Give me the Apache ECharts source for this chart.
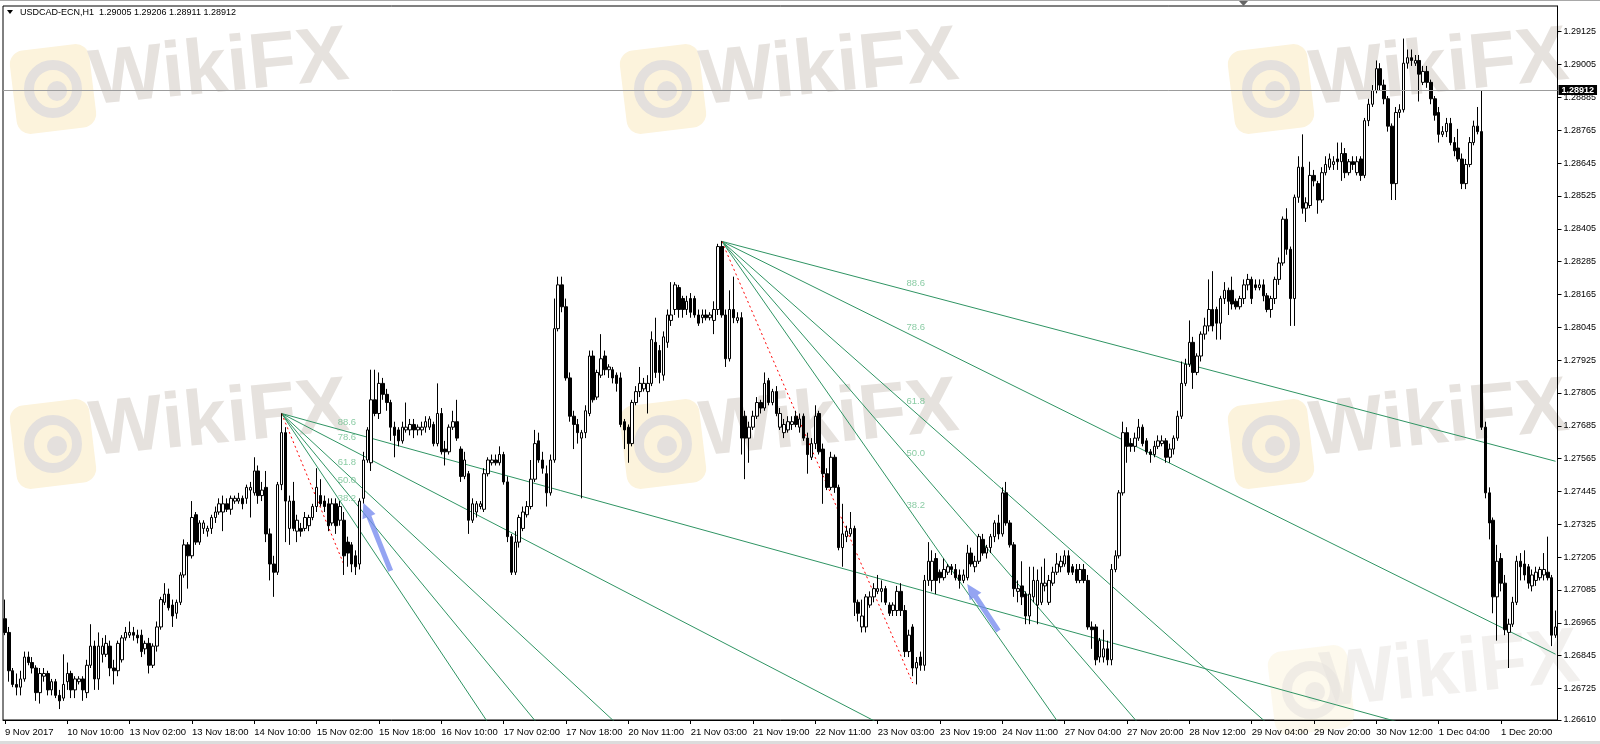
<!DOCTYPE html>
<html>
<head>
<meta charset="utf-8">
<title>USDCAD-ECN,H1</title>
<script src="https://cdn.jsdelivr.net/npm/echarts@6.0.0/dist/echarts.min.js"></script>
<style>
html,body{margin:0;padding:0;background:#ffffff;}
#chart{width:1600px;height:744px;}
</style>
</head>
<body>
<div id="chart"></div>
<script>
const symbolTitle = 'USDCAD-ECN,H1  1.29005 1.29206 1.28911 1.28912';
const xTickLabels = ['9 Nov 2017','10 Nov 10:00','13 Nov 02:00','13 Nov 18:00','14 Nov 10:00','15 Nov 02:00','15 Nov 18:00','16 Nov 10:00','17 Nov 02:00','17 Nov 18:00','20 Nov 11:00','21 Nov 03:00','21 Nov 19:00','22 Nov 11:00','23 Nov 03:00','23 Nov 19:00','24 Nov 11:00','27 Nov 04:00','27 Nov 20:00','28 Nov 12:00','29 Nov 04:00','29 Nov 20:00','30 Nov 12:00','1 Dec 04:00','1 Dec 20:00'];
const yTicks = [1.26610,1.26725,1.26845,1.26965,1.27085,1.27205,1.27325,1.27445,1.27565,1.27685,1.27805,1.27925,1.28045,1.28165,1.28285,1.28405,1.28525,1.28645,1.28765,1.28885,1.29005,1.29125];

const opens = [
1.2698,1.2693,1.2679,1.2674,1.2673,1.2676,1.2684,1.2682,1.2680,1.2671,1.2677,1.2678,1.2672,1.2675,1.2670,1.2669,1.2675,1.2678,1.2672,1.2675,
1.2676,1.2671,1.2681,1.2688,1.2676,1.2685,1.2685,1.2688,1.2680,1.2679,1.2683,1.2691,1.2692,1.2693,1.2692,1.2692,1.2687,1.2689,1.2681,1.2688,
1.2695,1.2704,1.2707,1.2703,1.2700,1.2704,1.2714,1.2725,1.2721,1.2736,1.2726,1.2731,1.2730,1.2731,1.2735,1.2737,1.2737,1.2740,1.2738,1.2741,
1.2741,1.2742,1.2742,1.2745,1.2744,1.2752,1.2743,1.2746,1.2729,1.2718,1.2715,1.2747,1.2766,1.2731,1.2741,1.2730,1.2731,1.2731,1.2732,1.2735,
1.2739,1.2743,1.2741,1.2740,1.2733,1.2740,1.2734,1.2734,1.2726,1.2725,1.2721,1.2718,1.2742,1.2756,1.2755,1.2778,1.2773,1.2784,1.2780,1.2777,
1.2768,1.2767,1.2763,1.2767,1.2767,1.2769,1.2767,1.2767,1.2768,1.2768,1.2769,1.2762,1.2773,1.2760,1.2759,1.2768,1.2770,1.2760,1.2750,1.2751,
1.2734,1.2737,1.2739,1.2738,1.2751,1.2755,1.2756,1.2755,1.2758,1.2748,1.2728,1.2715,1.2726,1.2731,1.2736,1.2739,1.2749,1.2763,1.2756,1.2751,
1.2744,1.2756,1.2804,1.2820,1.2812,1.2786,1.2772,1.2769,1.2764,1.2766,1.2773,1.2794,1.2779,1.2787,1.2794,1.2789,1.2789,1.2787,1.2786,1.2770,
1.2768,1.2762,1.2777,1.2781,1.2782,1.2781,1.2784,1.2799,1.2796,1.2787,1.2799,1.2807,1.2811,1.2819,1.2815,1.2811,1.2815,1.2815,1.2809,1.2808,
1.2809,1.2808,1.2807,1.2811,1.2834,1.2809,1.2793,1.2811,1.2807,1.2808,1.2772,1.2764,1.2768,1.2772,1.2777,1.2775,1.2785,1.2777,1.2781,1.2768,
1.2766,1.2767,1.2769,1.2772,1.2768,1.2772,1.2764,1.2757,1.2762,1.2773,1.2760,1.2751,1.2746,1.2757,1.2746,1.2724,1.2728,1.2729,1.2731,1.2704,
1.2695,1.2695,1.2703,1.2706,1.2708,1.2708,1.2709,1.2703,1.2701,1.2701,1.2708,1.2701,1.2686,1.2695,1.2680,1.2684,1.2681,1.2712,1.2712,1.2720,
1.2715,1.2713,1.2715,1.2717,1.2716,1.2714,1.2712,1.2713,1.2722,1.2717,1.2719,1.2727,1.2722,1.2724,1.2728,1.2733,1.2729,1.2744,1.2733,1.2725,
1.2708,1.2710,1.2707,1.2699,1.2706,1.2703,1.2704,1.2710,1.2704,1.2711,1.2715,1.2717,1.2718,1.2721,1.2717,1.2716,1.2712,1.2716,1.2712,1.2695,
1.2695,1.2684,1.2684,1.2687,1.2683,1.2716,1.2721,1.2744,1.2766,1.2762,1.2761,1.2764,1.2768,1.2763,1.2759,1.2758,1.2761,1.2762,1.2763,1.2757,
1.2760,1.2764,1.2772,1.2784,1.2791,1.2799,1.2788,1.2794,1.2802,1.2805,1.2811,1.2811,1.2806,1.2815,1.2818,1.2818,1.2814,1.2812,1.2815,1.2820,
1.2822,1.2820,1.2819,1.2820,1.2816,1.2811,1.2815,1.2822,1.2828,1.2844,1.2833,1.2815,1.2852,1.2863,1.2848,1.2849,1.2860,1.2857,1.2851,1.2861,
1.2863,1.2864,1.2866,1.2865,1.2868,1.2861,1.2865,1.2861,1.2866,1.2860,1.2880,1.2886,1.2891,1.2899,1.2893,1.2888,1.2878,1.2857,1.2883,1.2884,
1.2901,1.2903,1.2901,1.2902,1.2894,1.2898,1.2894,1.2888,1.2883,1.2875,1.2876,1.2879,1.2872,1.2870,1.2866,1.2857,1.2864,1.2872,1.2878,1.2876,
1.2768,1.2744,1.2734,1.2706,1.2720,1.2711,1.2693,1.2696,1.2704,1.2719,1.2718,1.2717,1.2710,1.2712,1.2713,1.2714,1.2715,1.2713,1.2692];

const closes = [
1.2693,1.2679,1.2674,1.2673,1.2676,1.2684,1.2682,1.2680,1.2671,1.2678,1.2678,1.2672,1.2675,1.2670,1.2668,1.2674,1.2678,1.2672,1.2676,1.2676,
1.2672,1.2681,1.2688,1.2676,1.2688,1.2688,1.2689,1.2680,1.2679,1.2689,1.2691,1.2693,1.2693,1.2692,1.2691,1.2686,1.2689,1.2681,1.2688,1.2695,
1.2705,1.2707,1.2702,1.2699,1.2704,1.2714,1.2725,1.2721,1.2735,1.2726,1.2733,1.2733,1.2731,1.2735,1.2737,1.2740,1.2740,1.2738,1.2742,1.2742,
1.2742,1.2740,1.2746,1.2746,1.2752,1.2743,1.2745,1.2729,1.2718,1.2715,1.2747,1.2766,1.2741,1.2741,1.2731,1.2734,1.2730,1.2735,1.2735,1.2739,
1.2746,1.2740,1.2739,1.2732,1.2740,1.2732,1.2739,1.2721,1.2722,1.2718,1.2717,1.2741,1.2756,1.2767,1.2778,1.2773,1.2784,1.2780,1.2777,1.2768,
1.2765,1.2763,1.2768,1.2768,1.2769,1.2767,1.2768,1.2768,1.2770,1.2771,1.2762,1.2773,1.2759,1.2759,1.2768,1.2770,1.2764,1.2750,1.2756,1.2734,
1.2740,1.2740,1.2740,1.2751,1.2756,1.2756,1.2755,1.2758,1.2748,1.2728,1.2715,1.2726,1.2735,1.2737,1.2739,1.2749,1.2762,1.2756,1.2753,1.2744,
1.2756,1.2804,1.2820,1.2812,1.2786,1.2772,1.2769,1.2766,1.2766,1.2774,1.2794,1.2778,1.2788,1.2793,1.2789,1.2790,1.2786,1.2784,1.2769,1.2767,
1.2762,1.2777,1.2781,1.2784,1.2784,1.2784,1.2800,1.2788,1.2788,1.2801,1.2809,1.2809,1.2820,1.2811,1.2811,1.2814,1.2810,1.2809,1.2806,1.2809,
1.2808,1.2809,1.2811,1.2834,1.2809,1.2793,1.2811,1.2808,1.2808,1.2764,1.2764,1.2768,1.2772,1.2777,1.2775,1.2784,1.2777,1.2781,1.2773,1.2773,
1.2769,1.2770,1.2770,1.2769,1.2771,1.2764,1.2758,1.2762,1.2772,1.2759,1.2751,1.2746,1.2757,1.2746,1.2724,1.2729,1.2730,1.2731,1.2704,1.2700,
1.2699,1.2706,1.2706,1.2709,1.2709,1.2709,1.2704,1.2700,1.2703,1.2708,1.2701,1.2686,1.2692,1.2680,1.2682,1.2681,1.2712,1.2719,1.2719,1.2712,
1.2713,1.2716,1.2717,1.2716,1.2713,1.2712,1.2714,1.2722,1.2718,1.2719,1.2728,1.2722,1.2724,1.2728,1.2733,1.2729,1.2744,1.2733,1.2725,1.2709,
1.2709,1.2706,1.2699,1.2707,1.2712,1.2712,1.2711,1.2711,1.2712,1.2715,1.2718,1.2719,1.2721,1.2715,1.2715,1.2712,1.2716,1.2712,1.2695,1.2694,
1.2683,1.2690,1.2687,1.2683,1.2716,1.2721,1.2744,1.2766,1.2761,1.2761,1.2764,1.2768,1.2762,1.2759,1.2758,1.2761,1.2763,1.2763,1.2757,1.2760,
1.2764,1.2772,1.2784,1.2791,1.2799,1.2788,1.2794,1.2802,1.2805,1.2811,1.2805,1.2806,1.2815,1.2818,1.2814,1.2813,1.2812,1.2815,1.2820,1.2822,
1.2815,1.2819,1.2820,1.2816,1.2811,1.2815,1.2822,1.2828,1.2844,1.2833,1.2815,1.2852,1.2863,1.2848,1.2850,1.2860,1.2858,1.2851,1.2861,1.2864,
1.2866,1.2865,1.2865,1.2868,1.2861,1.2865,1.2864,1.2865,1.2860,1.2880,1.2886,1.2891,1.2899,1.2893,1.2888,1.2878,1.2857,1.2883,1.2884,1.2901,
1.2903,1.2902,1.2902,1.2897,1.2898,1.2894,1.2888,1.2882,1.2875,1.2876,1.2879,1.2872,1.2869,1.2866,1.2857,1.2864,1.2872,1.2878,1.2876,1.2768,
1.2744,1.2733,1.2706,1.2719,1.2711,1.2694,1.2696,1.2704,1.2719,1.2717,1.2714,1.2711,1.2714,1.2715,1.2716,1.2716,1.2713,1.2692,1.2695];

const highs = [
1.2705,1.2695,1.2680,1.2678,1.2679,1.2686,1.2686,1.2684,1.2681,1.2680,1.2680,1.2679,1.2676,1.2676,1.2672,1.2685,1.2682,1.2679,1.2677,1.2677,
1.2677,1.2683,1.2696,1.2690,1.2693,1.2691,1.2692,1.2690,1.2683,1.2690,1.2692,1.2695,1.2697,1.2695,1.2694,1.2694,1.2690,1.2691,1.2689,1.2697,
1.2706,1.2711,1.2709,1.2705,1.2705,1.2715,1.2727,1.2726,1.2741,1.2737,1.2734,1.2734,1.2732,1.2736,1.2739,1.2742,1.2743,1.2742,1.2743,1.2743,
1.2744,1.2743,1.2747,1.2748,1.2757,1.2754,1.2748,1.2752,1.2731,1.2721,1.2748,1.2773,1.2768,1.2743,1.2748,1.2736,1.2733,1.2737,1.2736,1.2740,
1.2753,1.2749,1.2743,1.2742,1.2742,1.2742,1.2741,1.2737,1.2728,1.2726,1.2723,1.2742,1.2759,1.2768,1.2789,1.2789,1.2788,1.2786,1.2782,1.2778,
1.2770,1.2768,1.2770,1.2777,1.2771,1.2771,1.2769,1.2770,1.2772,1.2772,1.2770,1.2784,1.2775,1.2763,1.2769,1.2774,1.2778,1.2761,1.2759,1.2752,
1.2742,1.2741,1.2741,1.2753,1.2757,1.2758,1.2758,1.2761,1.2759,1.2750,1.2729,1.2730,1.2736,1.2739,1.2741,1.2756,1.2767,1.2766,1.2759,1.2754,
1.2758,1.2815,1.2823,1.2823,1.2815,1.2788,1.2774,1.2771,1.2767,1.2776,1.2796,1.2796,1.2789,1.2802,1.2796,1.2791,1.2790,1.2788,1.2788,1.2771,
1.2769,1.2778,1.2783,1.2790,1.2786,1.2787,1.2803,1.2808,1.2798,1.2803,1.2811,1.2821,1.2821,1.2820,1.2816,1.2816,1.2817,1.2816,1.2811,1.2811,
1.2811,1.2810,1.2814,1.2835,1.2836,1.2811,1.2818,1.2823,1.2810,1.2810,1.2774,1.2770,1.2774,1.2779,1.2778,1.2788,1.2786,1.2782,1.2783,1.2775,
1.2771,1.2772,1.2772,1.2774,1.2773,1.2773,1.2766,1.2764,1.2776,1.2774,1.2762,1.2753,1.2759,1.2758,1.2747,1.2740,1.2732,1.2737,1.2732,1.2705,
1.2705,1.2707,1.2708,1.2711,1.2714,1.2712,1.2710,1.2704,1.2704,1.2710,1.2711,1.2703,1.2694,1.2696,1.2684,1.2686,1.2714,1.2726,1.2723,1.2722,
1.2716,1.2720,1.2718,1.2718,1.2718,1.2716,1.2716,1.2725,1.2724,1.2721,1.2729,1.2729,1.2725,1.2729,1.2734,1.2736,1.2746,1.2748,1.2734,1.2726,
1.2712,1.2719,1.2708,1.2717,1.2717,1.2716,1.2717,1.2720,1.2714,1.2717,1.2722,1.2721,1.2723,1.2723,1.2718,1.2718,1.2718,1.2718,1.2714,1.2697,
1.2696,1.2691,1.2694,1.2690,1.2718,1.2723,1.2745,1.2770,1.2768,1.2764,1.2766,1.2771,1.2769,1.2764,1.2760,1.2763,1.2765,1.2765,1.2764,1.2762,
1.2765,1.2774,1.2792,1.2793,1.2807,1.2801,1.2795,1.2803,1.2808,1.2822,1.2825,1.2812,1.2816,1.2821,1.2819,1.2823,1.2815,1.2816,1.2822,1.2824,
1.2823,1.2822,1.2822,1.2822,1.2817,1.2816,1.2823,1.2830,1.2845,1.2848,1.2834,1.2853,1.2867,1.2875,1.2852,1.2865,1.2862,1.2858,1.2863,1.2867,
1.2868,1.2867,1.2872,1.2872,1.2870,1.2866,1.2867,1.2867,1.2867,1.2881,1.2888,1.2893,1.2902,1.2901,1.2895,1.2889,1.2879,1.2885,1.2886,1.2910,
1.2906,1.2906,1.2904,1.2904,1.2900,1.2900,1.2895,1.2889,1.2885,1.2878,1.2881,1.2881,1.2874,1.2877,1.2868,1.2866,1.2874,1.2880,1.2885,1.2891,
1.2770,1.2746,1.2735,1.2725,1.2722,1.2714,1.2698,1.2706,1.2721,1.2722,1.2723,1.2718,1.2716,1.2717,1.2717,1.2722,1.2728,1.2714,1.2701];

const lows = [
1.2692,1.2675,1.2673,1.2670,1.2670,1.2675,1.2681,1.2678,1.2668,1.2667,1.2675,1.2670,1.2670,1.2669,1.2665,1.2668,1.2672,1.2669,1.2669,1.2674,
1.2668,1.2669,1.2680,1.2672,1.2672,1.2682,1.2684,1.2677,1.2674,1.2677,1.2682,1.2690,1.2691,1.2690,1.2689,1.2684,1.2685,1.2678,1.2680,1.2686,
1.2694,1.2703,1.2701,1.2695,1.2698,1.2703,1.2713,1.2709,1.2720,1.2725,1.2725,1.2729,1.2728,1.2729,1.2733,1.2736,1.2730,1.2737,1.2736,1.2740,
1.2740,1.2738,1.2740,1.2735,1.2743,1.2740,1.2741,1.2726,1.2712,1.2706,1.2714,1.2745,1.2726,1.2725,1.2730,1.2726,1.2728,1.2730,1.2730,1.2734,
1.2737,1.2739,1.2737,1.2730,1.2732,1.2729,1.2732,1.2714,1.2717,1.2715,1.2714,1.2716,1.2740,1.2755,1.2752,1.2772,1.2771,1.2778,1.2774,1.2763,
1.2757,1.2761,1.2762,1.2766,1.2765,1.2764,1.2765,1.2765,1.2766,1.2767,1.2761,1.2761,1.2758,1.2754,1.2758,1.2767,1.2763,1.2748,1.2749,1.2729,
1.2733,1.2735,1.2738,1.2737,1.2750,1.2754,1.2754,1.2754,1.2747,1.2726,1.2714,1.2714,1.2724,1.2730,1.2735,1.2738,1.2748,1.2755,1.2751,1.2739,
1.2743,1.2755,1.2803,1.2810,1.2785,1.2770,1.2760,1.2762,1.2742,1.2764,1.2772,1.2777,1.2778,1.2786,1.2787,1.2786,1.2784,1.2781,1.2768,1.2760,
1.2755,1.2761,1.2776,1.2779,1.2781,1.2773,1.2783,1.2786,1.2784,1.2785,1.2797,1.2805,1.2809,1.2808,1.2808,1.2809,1.2808,1.2808,1.2805,1.2806,
1.2807,1.2807,1.2802,1.2809,1.2808,1.2790,1.2792,1.2806,1.2806,1.2758,1.2749,1.2755,1.2767,1.2771,1.2773,1.2774,1.2776,1.2776,1.2772,1.2767,
1.2764,1.2766,1.2767,1.2768,1.2766,1.2763,1.2751,1.2756,1.2760,1.2758,1.2740,1.2745,1.2745,1.2744,1.2723,1.2717,1.2726,1.2728,1.2699,1.2697,
1.2693,1.2693,1.2702,1.2704,1.2707,1.2704,1.2703,1.2699,1.2699,1.2699,1.2699,1.2684,1.2684,1.2677,1.2674,1.2679,1.2679,1.2710,1.2708,1.2707,
1.2711,1.2712,1.2714,1.2714,1.2712,1.2709,1.2711,1.2712,1.2717,1.2715,1.2718,1.2721,1.2720,1.2722,1.2726,1.2727,1.2728,1.2732,1.2724,1.2706,
1.2704,1.2703,1.2696,1.2696,1.2704,1.2696,1.2703,1.2708,1.2703,1.2710,1.2714,1.2715,1.2717,1.2714,1.2714,1.2711,1.2711,1.2711,1.2694,1.2687,
1.2681,1.2682,1.2682,1.2681,1.2681,1.2715,1.2720,1.2743,1.2755,1.2759,1.2759,1.2763,1.2761,1.2758,1.2755,1.2757,1.2760,1.2761,1.2755,1.2755,
1.2758,1.2763,1.2771,1.2783,1.2790,1.2782,1.2787,1.2792,1.2800,1.2803,1.2803,1.2800,1.2800,1.2813,1.2809,1.2811,1.2811,1.2811,1.2813,1.2818,
1.2813,1.2818,1.2818,1.2814,1.2810,1.2808,1.2813,1.2820,1.2827,1.2831,1.2805,1.2805,1.2850,1.2846,1.2843,1.2848,1.2856,1.2846,1.2850,1.2860,
1.2862,1.2862,1.2862,1.2858,1.2859,1.2860,1.2862,1.2860,1.2858,1.2859,1.2878,1.2885,1.2890,1.2891,1.2886,1.2876,1.2851,1.2851,1.2881,1.2883,
1.2899,1.2900,1.2900,1.2887,1.2893,1.2892,1.2886,1.2880,1.2872,1.2874,1.2874,1.2871,1.2867,1.2865,1.2855,1.2855,1.2863,1.2871,1.2875,1.2767,
1.2742,1.2727,1.2700,1.2690,1.2708,1.2692,1.2680,1.2695,1.2703,1.2712,1.2712,1.2709,1.2708,1.2710,1.2712,1.2712,1.2712,1.2688,1.2691];

const fibLevels = [38.2, 50.0, 61.8, 78.6, 88.6];
const fan1 = [[71, 1.27730], [87, 1.27178]];
const fan2 = [[184, 1.28359], [233, 1.26745]];
const arrows = [[99, 1.27155, 92, 1.27404], [255, 1.26935, 247, 1.27107]];
const currentPrice = 1.28912;
const Y_MIN = 1.26610, Y_MAX = 1.29219;

const FONT = '"Liberation Sans", Arial, sans-serif';
const N = opens.length;
const categories = Array.from({length: N}, (_, i) => String(i));
const candles = opens.map((o, i) => [o, closes[i], lows[i], highs[i]]);
const X_END = N - 1;

function fanSeries(fan) {
  const a = fan[0], b = fan[1];
  const out = [];
  fibLevels.forEach(lv => {
    const pL = b[1] + (a[1] - b[1]) * lv / 100;
    const slope = (pL - a[1]) / (b[0] - a[0]);
    out.push({
      type: 'line', silent: true, animation: false, symbol: 'none', showSymbol: false, clip: true, z: 3,
      lineStyle: {color: '#2f9463', width: 1},
      data: [[a[0], a[1]], [X_END, a[1] + slope * (X_END - a[0])]]
    });
  });
  out.push({
    type: 'line', silent: true, animation: false, symbol: 'none', showSymbol: false, clip: true, z: 3,
    lineStyle: {color: '#ff0000', width: 1, type: [2, 3]},
    data: [[a[0], a[1]], [b[0], b[1]]]
  });
  out.push({
    type: 'scatter', silent: true, animation: false, symbolSize: 1, z: 5,
    itemStyle: {color: 'rgba(0,0,0,0)'},
    label: {show: true, position: 'top', distance: 3, offset: [3, 0], color: '#6dbf8d', fontSize: 9.5, fontFamily: FONT,
      formatter: p => p.data.name},
    data: fibLevels.map(lv => ({name: lv.toFixed(1), value: [b[0], b[1] + (a[1] - b[1]) * lv / 100]}))
  });
  return out;
}

function watermark(tileX, tileY, textX, textY, alpha) {
  return [
    {type: 'rect', x: tileX, y: tileY, rotation: 0.12, silent: true, z: 0,
      shape: {x: -40, y: -42, width: 80, height: 84, r: 14}, style: {fill: '#fcf3dc', opacity: alpha}},
    {type: 'circle', x: tileX, y: tileY, silent: true, z: 0,
      shape: {cx: 0, cy: 0, r: 24}, style: {fill: 'none', stroke: '#e4e0dd', lineWidth: 10, opacity: alpha}},
    {type: 'circle', x: tileX + 4, y: tileY + 2, silent: true, z: 0,
      shape: {cx: 0, cy: 0, r: 10}, style: {fill: '#e4e0dd', opacity: alpha}},
    {type: 'text', x: textX, y: textY, rotation: 0.1, silent: true, z: 0,
      style: {text: 'WikiFX', font: 'bold 78px ' + FONT, fill: '#e6e2de', opacity: alpha,
        textAlign: 'center', textVerticalAlign: 'middle', verticalAlign: 'middle'}}
  ];
}

const graphics = [].concat(
  watermark(53, 89, 219, 70, 1),
  watermark(663, 89, 829, 70, 1),
  watermark(1271, 89, 1439, 70, 1),
  watermark(53, 444, 219, 421, 1),
  watermark(663, 444, 829, 421, 1),
  watermark(1271, 444, 1439, 421, 1),
  watermark(1311, 690, 1450, 672, 0.5),
  [
    {type: 'rect', shape: {x: 0, y: 0, width: 1600, height: 1}, style: {fill: '#a8a8a8'}, silent: true, z: 10},
    {type: 'rect', shape: {x: 0, y: 741, width: 1600, height: 3}, style: {fill: '#dcdcdc'}, silent: true, z: 10},
    {type: 'polygon', shape: {points: [[7, 10], [13, 10], [10, 14]]}, style: {fill: '#000'}, silent: true, z: 10},
    {type: 'text', x: 20, y: 8, silent: true, z: 10,
      style: {text: symbolTitle, font: '9px ' + FONT, fill: '#000', textAlign: 'left', textVerticalAlign: 'top', verticalAlign: 'top'}},
    {type: 'polygon', shape: {points: [[1239, 1], [1248, 1], [1243.5, 6]]}, style: {fill: '#666'}, silent: true, z: 10}
  ]
);

const arrowSeries = {
  type: 'custom', silent: true, animation: false, z: 6,
  encode: {x: [0, 2], y: [1, 3]},
  data: arrows,
  renderItem: (params, api) => {
    const t = api.coord([api.value(0), api.value(1)]);
    const h = api.coord([api.value(2), api.value(3)]);
    const dx = h[0] - t[0], dy = h[1] - t[1];
    const len = Math.hypot(dx, dy);
    const ux = dx / len, uy = dy / len, nx = -uy, ny = ux;
    const sw = 2.6, hw = 7, hl = 15;
    const bx = h[0] - ux * hl, by = h[1] - uy * hl;
    return {
      type: 'polygon',
      shape: {points: [
        [t[0] + nx * sw, t[1] + ny * sw], [bx + nx * sw, by + ny * sw], [bx + nx * hw, by + ny * hw],
        [h[0], h[1]], [bx - nx * hw, by - ny * hw], [bx - nx * sw, by - ny * sw], [t[0] - nx * sw, t[1] - ny * sw]
      ]},
      style: {fill: 'rgba(118,138,238,0.78)'}
    };
  }
};

const chart = echarts.init(document.getElementById('chart'), null, {renderer: 'canvas', width: 1600, height: 744});
chart.setOption({
  backgroundColor: '#ffffff',
  animation: false,
  graphic: graphics,
  grid: {left: 3, right: 42.5, top: 6, bottom: 24, show: true, borderColor: '#000', borderWidth: 1,
    backgroundColor: 'transparent', containLabel: false, outerBoundsMode: 'none'},
  xAxis: {
    type: 'category', data: categories, boundaryGap: true,
    axisLine: {show: true, lineStyle: {color: '#000', width: 1}},
    axisTick: {show: true, interval: 15, alignWithLabel: true, length: 4, lineStyle: {color: '#000'}},
    axisLabel: {show: true, interval: 15, align: 'left', color: '#000', fontSize: 9.5, fontFamily: FONT, margin: 7,
      formatter: (v, i) => (i % 16 === 0 && xTickLabels[i / 16]) ? xTickLabels[i / 16] : ''},
    splitLine: {show: false}
  },
  yAxis: {
    type: 'value', position: 'right', min: Y_MIN, max: Y_MAX, scale: true,
    splitLine: {show: false},
    axisLine: {show: true, lineStyle: {color: '#000', width: 1}},
    axisTick: {show: true, customValues: yTicks, length: 4, lineStyle: {color: '#000'}},
    axisLabel: {show: true, customValues: yTicks, color: '#000', fontSize: 9, fontFamily: FONT, margin: 6,
      formatter: v => v.toFixed(5)}
  },
  series: [
    {
      type: 'candlestick', data: candles, barWidth: 3, z: 4, silent: true, animation: false,
      itemStyle: {color: '#ffffff', color0: '#000000', borderColor: '#000000', borderColor0: '#000000', borderWidth: 1},
      markLine: {
        silent: true, animation: false, symbol: ['none', 'none'], precision: 5,
        lineStyle: {color: '#9c9c9c', width: 1, type: 'solid'},
        label: {show: true, position: 'end', distance: 1, formatter: currentPrice.toFixed(5),
          color: '#fff', backgroundColor: '#000', padding: [1, 3, 0, 3], fontSize: 9, fontWeight: 'bold', fontFamily: FONT},
        data: [{yAxis: currentPrice}]
      }
    },
    ...fanSeries(fan1),
    ...fanSeries(fan2),
    arrowSeries
  ]
});
</script>
</body>
</html>
